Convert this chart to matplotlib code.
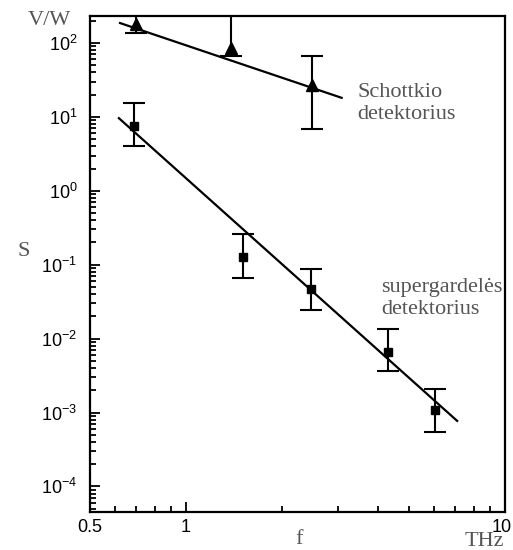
import matplotlib
matplotlib.use('Agg')
import matplotlib.pyplot as plt
import matplotlib.transforms as mtransforms
from matplotlib.ticker import LogLocator, FixedLocator, FixedFormatter, NullFormatter

plt.rcParams['font.family'] = ['Liberation Sans', 'DejaVu Sans']
plt.rcParams['mathtext.default'] = 'regular'

# Schottkio detektorius (trikampiai)
f_sch = [0.70, 1.39, 2.48]
s_sch = [180, 85, 27]
s_sch_lo = [136, 67, 6.9]
s_sch_hi = [400, 400, 67]
fit_sch_f = [0.622, 3.08]
fit_sch_s = [186, 18.1]

# supergardelės detektorius (kvadratai)
f_sl = [0.689, 1.51, 2.46, 4.31, 6.04]
s_sl = [7.55, 0.128, 0.047, 0.0065, 0.00107]
s_sl_lo = [4.06, 0.067, 0.024, 0.0037, 0.00055]
s_sl_hi = [15.5, 0.26, 0.088, 0.0136, 0.0021]
fit_sl_f = [0.617, 7.09]
fit_sl_s = [9.6, 0.00077]

x_major = [0.5, 1, 10]
x_labels = ['0.5', '1', '10']
x_minor = [0.6, 0.7, 0.8, 0.9, 2, 3, 4, 5, 6, 7, 8, 9]


def klaidos(y, lo, hi):
    return [[v - l for v, l in zip(y, lo)], [h - v for v, h in zip(y, hi)]]


fig = plt.figure(figsize=(5.13, 5.5), dpi=100)
ax = fig.add_axes([0.175, 0.069, 0.809, 0.902])

ax.plot(fit_sch_f, fit_sch_s, color='black', lw=1.6)
ax.plot(fit_sl_f, fit_sl_s, color='black', lw=1.6)
ax.errorbar(f_sch, s_sch, yerr=klaidos(s_sch, s_sch_lo, s_sch_hi), fmt='^',
            color='black', ms=8, capsize=8, elinewidth=1.5, capthick=1.5)
ax.errorbar(f_sl, s_sl, yerr=klaidos(s_sl, s_sl_lo, s_sl_hi), fmt='s',
            color='black', ms=6, capsize=8, elinewidth=1.5, capthick=1.5)

ax.set_xscale('log')
ax.set_yscale('log')
ax.set_xlim(0.5, 10)
ax.set_ylim(4.5e-5, 232)

ax.xaxis.set_major_locator(FixedLocator(x_major))
ax.xaxis.set_major_formatter(FixedFormatter(x_labels))
ax.xaxis.set_minor_locator(FixedLocator(x_minor))
ax.xaxis.set_minor_formatter(NullFormatter())
ax.yaxis.set_major_locator(LogLocator(base=10, numticks=20))
ax.yaxis.set_minor_locator(LogLocator(base=10, subs=range(2, 10), numticks=20))
ax.yaxis.set_minor_formatter(NullFormatter())

for s in ax.spines.values():
    s.set_linewidth(1.6)
ax.tick_params(which='both', direction='in', top=False, right=False, labelsize=13, width=1.3)
ax.tick_params(axis='y', which='major', length=7, pad=9)
ax.tick_params(axis='x', which='major', length=7, pad=5)
ax.tick_params(which='minor', length=4)

# paskutinę x etiketę "10" paslinkti, kad tilptų
fig.canvas.draw()
last = ax.get_xticklabels()[-1]
last.set_horizontalalignment('right')
last.set_transform(last.get_transform() + mtransforms.ScaledTranslation(0.07, 0, fig.dpi_scale_trans))

serif = dict(family=['Liberation Serif', 'DejaVu Serif'], color='#555555')
fig.text(0.055, 0.955, 'V/W', fontsize=16, **serif)
fig.text(0.035, 0.535, 'S', fontsize=16, **serif)
fig.text(0.575, 0.01, 'f', fontsize=16, **serif)
fig.text(0.905, 0.007, 'THz', fontsize=16, **serif)
ax.text(3.45, 15, 'Schottkio\ndetektorius', fontsize=16, va='center', linespacing=1.2, **serif)
ax.text(4.1, 0.035, 'supergardelės\ndetektorius', fontsize=16, va='center', linespacing=1.2, **serif)

fig.savefig('out.png', dpi=100)
